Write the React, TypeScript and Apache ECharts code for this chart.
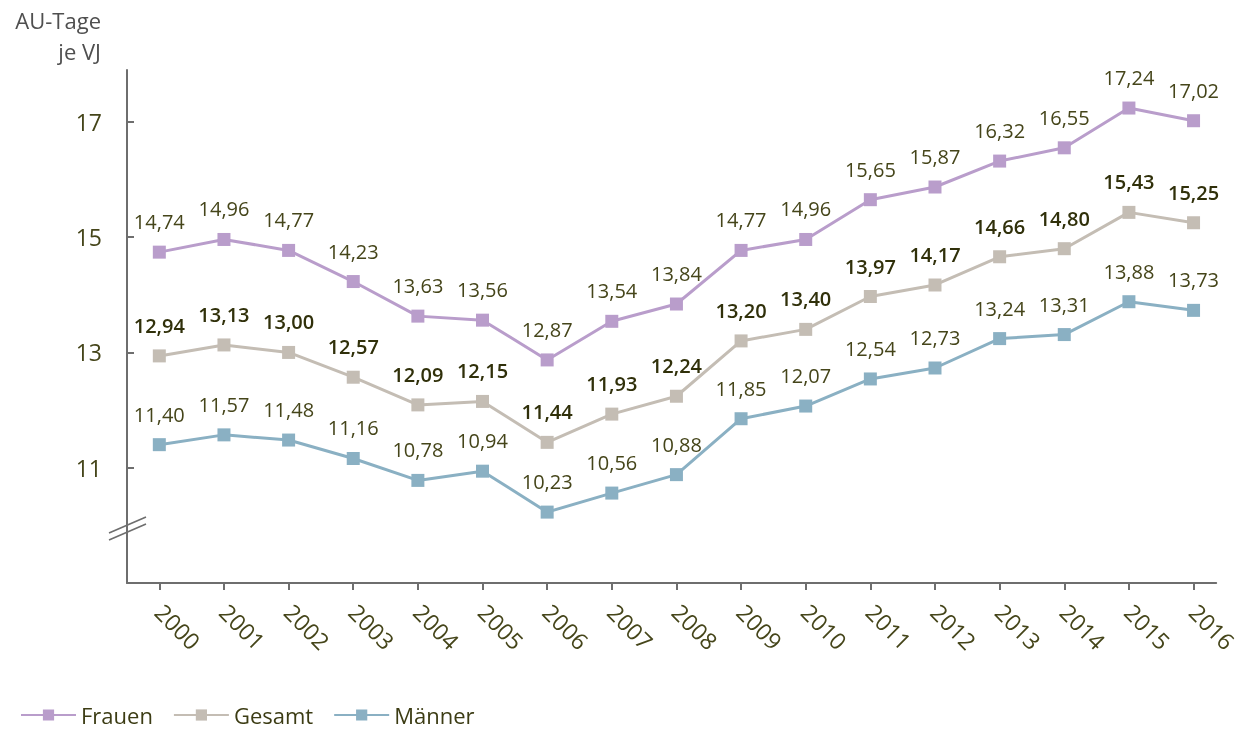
import React, { useEffect, useRef } from "react";
import * as echarts from "echarts";

const years = [2000, 2001, 2002, 2003, 2004, 2005, 2006, 2007, 2008, 2009, 2010, 2011, 2012, 2013, 2014, 2015, 2016];
const frauen = [14.74, 14.96, 14.77, 14.23, 13.63, 13.56, 12.87, 13.54, 13.84, 14.77, 14.96, 15.65, 15.87, 16.32, 16.55, 17.24, 17.02];
const gesamt = [12.94, 13.13, 13.0, 12.57, 12.09, 12.15, 11.44, 11.93, 12.24, 13.2, 13.4, 13.97, 14.17, 14.66, 14.8, 15.43, 15.25];
const maenner = [11.4, 11.57, 11.48, 11.16, 10.78, 10.94, 10.23, 10.56, 10.88, 11.85, 12.07, 12.54, 12.73, 13.24, 13.31, 13.88, 13.73];
const yTicks = [11, 13, 15, 17];

const FONT = "'Open Sans', 'Noto Sans', sans-serif";
const LABEL_COLOR = "#45451a";
const BOLD_COLOR = "#30300a";

const fmt = (v: number) => v.toFixed(2).replace(".", ",");

function mkSeries(name: string, data: number[], color: string, bold: boolean) {
  return {
    name,
    type: "line",
    data: years.map((y, i) => [y, data[i]]),
    symbol: "rect",
    symbolSize: 13,
    lineStyle: { color, width: 3 },
    itemStyle: { color },
    label: {
      show: true,
      position: "top",
      distance: 14,
      formatter: (p: any) => fmt(p.value[1]),
      fontFamily: FONT,
      fontSize: 20,
      fontWeight: bold ? 600 : 400,
      color: bold ? BOLD_COLOR : LABEL_COLOR,
    },
    emphasis: { disabled: true },
  };
}

export default function App() {
  const ref = useRef<HTMLDivElement>(null);
  useEffect(() => {
    if (!ref.current) return;
    const chart = echarts.init(ref.current, undefined, { renderer: "svg" });
    chart.setOption({
      animation: false,
      textStyle: { fontFamily: FONT },
      grid: { left: 127, right: 24, top: 70, bottom: 148, containLabel: false },
      xAxis: {
        type: "value",
        min: 1999.5,
        max: 2016.35,
        splitLine: { show: false },
        axisLine: { show: true, lineStyle: { color: "#6e6e6e", width: 2 } },
        axisTick: { show: true, customValues: years, length: 7, lineStyle: { color: "#6e6e6e", width: 2 } },
        axisLabel: {
          show: true,
          customValues: years,
          rotate: -45,
          margin: 25,
          fontFamily: FONT,
          fontSize: 23,
          fontWeight: 400,
          color: LABEL_COLOR,
          formatter: (v: number) => String(v),
        },
      },
      yAxis: {
        type: "value",
        min: 9,
        max: 17.9,
        splitLine: { show: false },
        axisLine: { show: true, lineStyle: { color: "#6e6e6e", width: 2 } },
        axisTick: { show: true, inside: true, customValues: yTicks, length: 7, lineStyle: { color: "#6e6e6e", width: 2 } },
        axisLabel: {
          show: true,
          customValues: yTicks,
          margin: 25,
          fontFamily: FONT,
          fontSize: 23,
          fontWeight: 400,
          color: LABEL_COLOR,
        },
      },
      legend: {
        left: 15,
        bottom: 0,
        padding: [0, 5, 5, 5],
        itemWidth: 55,
        itemHeight: 14,
        itemGap: 20,
        textStyle: { fontFamily: FONT, fontSize: 22, fontWeight: 400, color: "#3c3c14" },
        data: ["Frauen", "Gesamt", "Männer"],
      },
      graphic: [
        {
          type: "text",
          x: 101,
          y: 4,
          style: {
            text: "AU-Tage\nje VJ",
            align: "right",
            verticalAlign: "top",
            fontFamily: FONT,
            fontSize: 22,
            fontWeight: 400,
            lineHeight: 31,
            fill: "#4f4f4f",
          },
        },
        {
          type: "line",
          shape: { x1: 109, y1: 533, x2: 146, y2: 517 },
          style: { stroke: "#6e6e6e", lineWidth: 1.5 },
        },
        {
          type: "line",
          shape: { x1: 109, y1: 540, x2: 146, y2: 524 },
          style: { stroke: "#6e6e6e", lineWidth: 1.5 },
        },
      ],
      series: [
        mkSeries("Frauen", frauen, "#b99dcb", false),
        mkSeries("Gesamt", gesamt, "#c4bdb4", true),
        mkSeries("Männer", maenner, "#8ab0c3", false),
      ],
    });
    return () => chart.dispose();
  }, []);
  return (
    <div
      ref={ref}
      style={{ position: "fixed", left: 0, top: 0, width: 1241, height: 731, overflow: "hidden" }}
    />
  );
}
